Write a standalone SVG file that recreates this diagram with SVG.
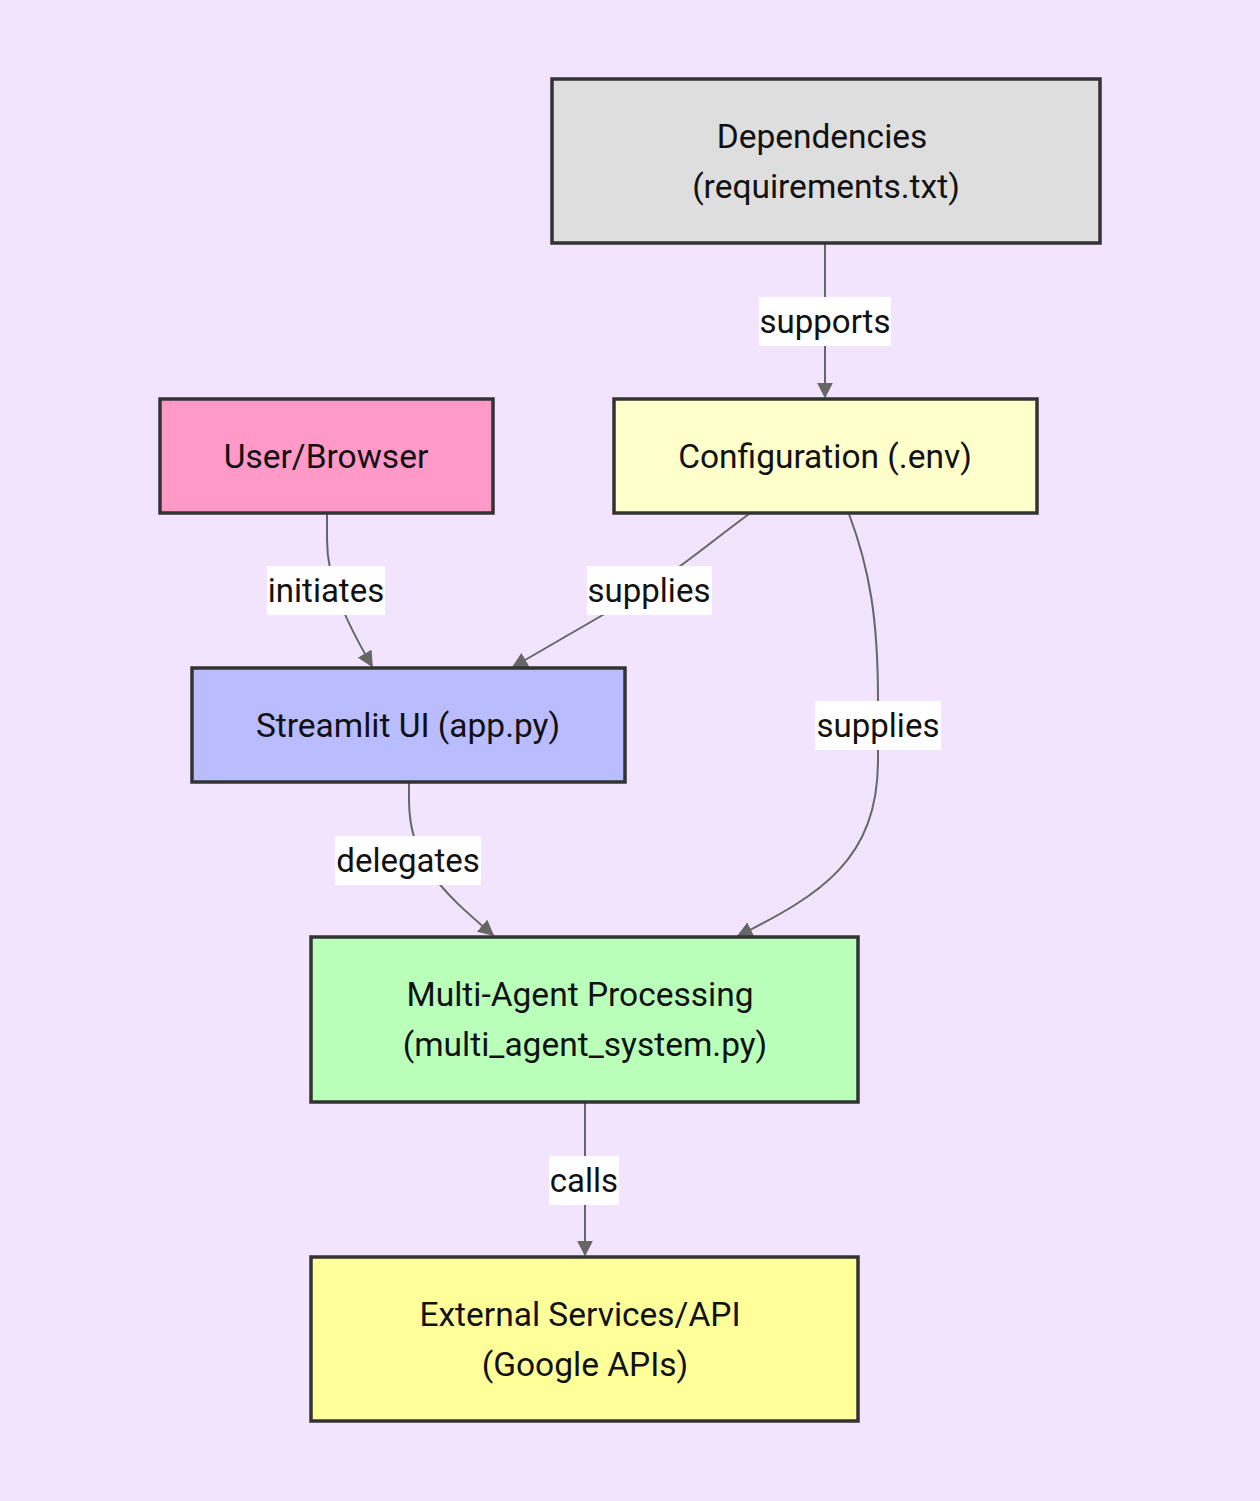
<svg xmlns="http://www.w3.org/2000/svg" width="1260" height="1501" viewBox="0 0 1260 1501">
<style>
.bg{fill:#f2e4fc}
.node rect{stroke:#333333;stroke-width:3.5}
text{font-family:Roboto,"Noto Sans",sans-serif;font-size:33.5px;fill:#111111;text-anchor:middle;dominant-baseline:central}
.lbl text{font-size:33px}
.edge{fill:none;stroke:#666666;stroke-width:2}
.lbl rect{fill:#ffffff}
</style>
<defs>
<marker id="arr" viewBox="0 0 10 10" refX="9" refY="5" markerWidth="16" markerHeight="16" markerUnits="userSpaceOnUse" orient="auto">
<path d="M0,0 L10,5 L0,10 z" fill="#666666"/>
</marker>
</defs>
<rect class="bg" x="0" y="0" width="1260" height="1501"/>
<g id="connectors">
<path class="edge" d="M825,244 L825,397" marker-end="url(#arr)"/>
<path class="edge" d="M327,514 L327,540 C327,580 345,620 372,666" marker-end="url(#arr)"/>
<path class="edge" d="M749,514 C700,550 680,570 620,605 L513,667" marker-end="url(#arr)"/>
<path class="edge" d="M849,514 C870,570 878,620 878,700 L878,760 C878,860 820,895 738,936" marker-end="url(#arr)"/>
<path class="edge" d="M409,783 L409,800 C409,860 440,890 493,935" marker-end="url(#arr)"/>
<path class="edge" d="M585,1103 L585,1255" marker-end="url(#arr)"/>
<g class="lbl"><rect x="759" y="297" width="132" height="49"/><text x="825" y="321">supports</text></g>
<g class="lbl"><rect x="267" y="566" width="118" height="49"/><text x="326" y="590">initiates</text></g>
<g class="lbl"><rect x="587" y="566" width="125" height="49"/><text x="649" y="590">supplies</text></g>
<g class="lbl"><rect x="815" y="701" width="126" height="49"/><text x="878" y="725">supplies</text></g>
<g class="lbl"><rect x="335" y="836" width="146" height="49"/><text x="408" y="860">delegates</text></g>
<g class="lbl"><rect x="549" y="1156" width="70" height="49"/><text x="584" y="1180">calls</text></g>
</g>
<g id="dependencies" class="node"><rect x="552" y="79" width="548" height="164" fill="#dedede"/><text x="822" y="136">Dependencies</text><text x="826" y="186">(requirements.txt)</text></g>
<g id="user" class="node"><rect x="160" y="399" width="333" height="114" fill="#ff99c8"/><text x="326" y="456">User/Browser</text></g>
<g id="config" class="node"><rect x="614" y="399" width="423" height="114" fill="#ffffcc"/><text x="825" y="456">Configuration (.env)</text></g>
<g id="streamlit" class="node"><rect x="192" y="668" width="433" height="114" fill="#b9bcff"/><text x="408" y="725">Streamlit UI (app.py)</text></g>
<g id="multiagent" class="node"><rect x="311" y="937" width="547" height="165" fill="#b9ffb9"/><text x="580" y="994">Multi-Agent Processing</text><text x="585" y="1044">(multi_agent_system.py)</text></g>
<g id="external" class="node"><rect x="311" y="1257" width="547" height="164" fill="#ffff99"/><text x="580" y="1314">External Services/API</text><text x="585" y="1364">(Google APIs)</text></g>
</svg>
